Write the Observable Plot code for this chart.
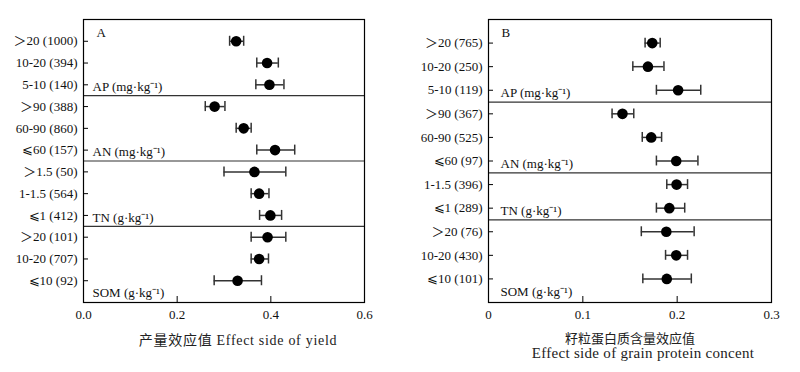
<!DOCTYPE html>
<html>
<head>
<meta charset="utf-8">
<script src="https://cdn.jsdelivr.net/npm/d3@7"></script>
<script src="https://cdn.jsdelivr.net/npm/@observablehq/plot@0.6"></script>
<style>
  html, body { margin: 0; padding: 0; background: #fff; }
  #wrap { position: relative; width: 800px; height: 372px; overflow: hidden; }
  #wrap > svg { position: absolute; top: 0; }
</style>
</head>
<body>
<div id="wrap"></div>
<script>
// ---- Panel A: yield effect size ----
const yieldLabels = ["＞20 (1000)", "10-20 (394)", "5-10 (140)", "＞90 (388)", "60-90 (860)", "⩽60 (157)", "＞1.5 (50)", "1-1.5 (564)", "⩽1 (412)", "＞20 (101)", "10-20 (707)", "⩽10 (92)"];
const yieldMean = [0.326, 0.392, 0.397, 0.280, 0.342, 0.409, 0.365, 0.375, 0.399, 0.393, 0.375, 0.329];
const yieldLow  = [0.312, 0.370, 0.368, 0.260, 0.326, 0.370, 0.300, 0.358, 0.376, 0.358, 0.358, 0.279];
const yieldHigh = [0.342, 0.416, 0.428, 0.302, 0.358, 0.451, 0.432, 0.396, 0.423, 0.432, 0.395, 0.380];
const yieldGroups = ["AP (mg·kg⁻¹)", "AN (mg·kg⁻¹)", "TN (g·kg⁻¹)", "SOM (g·kg⁻¹)"];
const yieldGroupSizes = [3, 3, 3, 3];
const yieldTicks = [0, 0.2, 0.4, 0.6];

// ---- Panel B: grain protein effect size ----
const proteinLabels = ["＞20 (765)", "10-20 (250)", "5-10 (119)", "＞90 (367)", "60-90 (525)", "⩽60 (97)", "1-1.5 (396)", "⩽1 (289)", "＞20 (76)", "10-20 (430)", "⩽10 (101)"];
const proteinMean = [0.1736, 0.169, 0.201, 0.142, 0.1725, 0.199, 0.1994, 0.1917, 0.1885, 0.199, 0.189];
const proteinLow  = [0.166, 0.153, 0.178, 0.131, 0.163, 0.178, 0.189, 0.178, 0.162, 0.1877, 0.1636];
const proteinHigh = [0.182, 0.186, 0.225, 0.154, 0.1835, 0.222, 0.211, 0.208, 0.218, 0.211, 0.215];
const proteinGroups = ["AP (mg·kg⁻¹)", "AN (mg·kg⁻¹)", "TN (g·kg⁻¹)", "SOM (g·kg⁻¹)"];
const proteinGroupSizes = [3, 3, 2, 3];
const proteinTicks = [0, 0.1, 0.2, 0.3];

const FONT = "'Liberation Serif', 'Times New Roman', 'Noto Sans CJK SC', serif";

function panel(o) {
  const n = o.labels.length;
  const rows = o.labels.map((label, i) => ({i, label, mean: o.mean[i], low: o.low[i], high: o.high[i]}));
  const ends = d3.cumsum(o.sizes).map(c => c - 1);
  const seps = ends.slice(0, -1).map(e => e + 0.5);
  const groupRows = o.groups.map((g, k) => ({g, y: ends[k] + (k === o.groups.length - 1 ? 0.55 : 0.1)}));
  const cap = o.cap;
  const marks = [
    Plot.ruleY(seps, {y: d => d, stroke: "#333", strokeWidth: 1.2}),
    Plot.frame({stroke: "#000", strokeWidth: 1.2}),
    Plot.axisX({ticks: o.ticks, tickFormat: o.format, tickSize: -6, tickPadding: 13, label: null, fontSize: 13, stroke: "#000", fill: "#111"}),
    Plot.axisY({ticks: d3.range(n), tickFormat: i => o.labels[i], tickSize: -5, tickPadding: 11, label: null, fontSize: 13, stroke: "#000", fill: "#111"}),
    Plot.ruleY(rows, {y: "i", x1: "low", x2: "high", stroke: "#333", strokeWidth: 1.5}),
    Plot.ruleX(rows, {x: "low", y1: d => d.i - cap, y2: d => d.i + cap, stroke: "#333", strokeWidth: 1.5}),
    Plot.ruleX(rows, {x: "high", y1: d => d.i - cap, y2: d => d.i + cap, stroke: "#333", strokeWidth: 1.5}),
    Plot.dot(rows, {x: "mean", y: "i", r: 5.3, fill: "#000", stroke: null}),
    Plot.text(groupRows, {y: "y", text: "g", frameAnchor: "left", dx: o.groupDx, textAnchor: "start", fontSize: 13, fill: "#111"}),
    Plot.text([o.letter], {text: d => d, frameAnchor: "top-left", dx: 13, dy: 8, lineAnchor: "top", textAnchor: "start", fontSize: 13, fill: "#111"}),
    ...o.titles.map(t => Plot.text([t.text], {text: d => d, frameAnchor: "bottom", dx: t.dx, dy: t.dy, lineAnchor: "middle", fontSize: t.size, fill: "#222"}))
  ];
  const svg = Plot.plot({
    width: 400, height: 372,
    marginLeft: o.marginLeft, marginRight: o.marginRight, marginTop: 19, marginBottom: 70,
    style: {fontFamily: FONT, fontSize: "13px", background: "transparent", color: "#111", overflow: "visible"},
    x: {domain: o.domain},
    y: {domain: [-1, n], reverse: true},
    marks
  });
  svg.style.left = o.left + "px";
  // letter spacing for the English axis titles
  svg.querySelectorAll("text").forEach(t => {
    if (/Effect/.test(t.textContent)) t.setAttribute("letter-spacing", o.titleSpacing);
  });
  return svg;
}

const wrap = document.getElementById("wrap");
wrap.append(panel({
  labels: yieldLabels, mean: yieldMean, low: yieldLow, high: yieldHigh,
  groups: yieldGroups, sizes: yieldGroupSizes,
  domain: [0, 0.6], ticks: yieldTicks, format: d3.format(".1f"),
  letter: "A", marginLeft: 83, marginRight: 36, left: 0, cap: 0.23, groupDx: 9,
  titles: [{text: "产量效应值 Effect side of yield", dx: 14, dy: 38, size: 14}],
  titleSpacing: "0.7"
}));
wrap.append(panel({
  labels: proteinLabels, mean: proteinMean, low: proteinLow, high: proteinHigh,
  groups: proteinGroups, sizes: proteinGroupSizes,
  domain: [0, 0.3], ticks: proteinTicks, format: d => d === 0 ? "0" : d.toFixed(1),
  letter: "B", marginLeft: 88, marginRight: 29, left: 400, cap: 0.21, groupDx: 12,
  titles: [
    {text: "籽粒蛋白质含量效应值", dx: 0, dy: 36, size: 13},
    {text: "Effect side of grain protein concent", dx: 13, dy: 51, size: 15}
  ],
  titleSpacing: "0.3"
}));
</script>
</body>
</html>
